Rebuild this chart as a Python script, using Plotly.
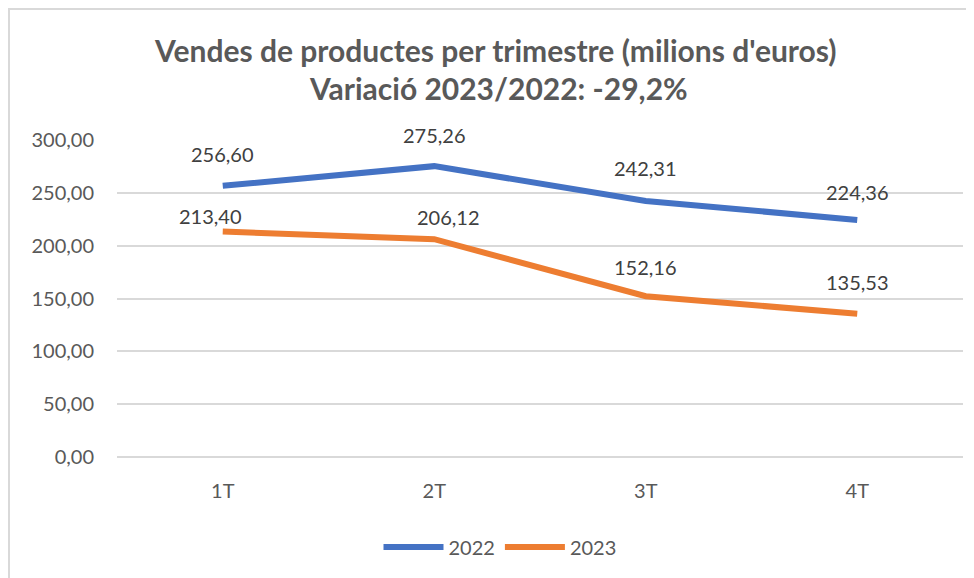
import plotly.graph_objects as go

categories = ["1T", "2T", "3T", "4T"]
sales_2022 = [256.60, 275.26, 242.31, 224.36]
sales_2023 = [213.40, 206.12, 152.16, 135.53]
series_names = ["2022", "2023"]
y_ticks = [0, 50, 100, 150, 200, 250, 300]

OFF = 8  # default page body margin
W, H = 974 - OFF, 578 - OFF
# plot area in screen pixels: x 117..963, y 140..457
ML = 117 - OFF
MT = 140 - OFF
MR = W - (963 - OFF)
MB = H - (457 - OFF)
PW = W - ML - MR
PH = H - MT - MB

def px_x(p):
    return (p - OFF - ML) / PW

def px_y(p):
    return (H - MB - (p - OFF)) / PH

FONT = "Lato"
GREY = "#595959"
colors = ["#4472C4", "#ED7D31"]

fig = go.Figure()
for name, vals, col in zip(series_names, [sales_2022, sales_2023], colors):
    fig.add_trace(go.Scatter(
        x=categories, y=vals, mode="lines", name=name,
        line=dict(color=col, width=6),
        hoverinfo="skip",
    ))

def fmt(v):
    return f"{v:.2f}".replace(".", ",")

# label offsets (pixels): (xshift, yshift)
offsets_2022 = [(0, 32), (0, 31), (0, 33), (0, 28)]
offsets_2023 = [(-12, 16), (14, 22), (0, 29), (0, 32)]
for vals, offs in [(sales_2022, offsets_2022), (sales_2023, offsets_2023)]:
    for c, v, (dx, dy) in zip(categories, vals, offs):
        fig.add_annotation(x=c, y=v, text=fmt(v), showarrow=False,
                           xshift=dx, yshift=dy, yanchor="middle",
                           font=dict(family=FONT, size=20, color="#404040"))

fig.add_annotation(xref="paper", yref="paper", x=px_x(495), y=px_y(50),
                   text="<b>Vendes de productes per trimestre (milions d'euros)</b>",
                   showarrow=False, yanchor="middle",
                   font=dict(family=FONT, size=30, color=GREY))
fig.add_annotation(xref="paper", yref="paper", x=px_x(498), y=px_y(88),
                   text="<b>Variació 2023/2022: -29,2%</b>",
                   showarrow=False, yanchor="middle",
                   font=dict(family=FONT, size=30, color=GREY))

fig.add_shape(type="rect", xref="paper", yref="paper",
              x0=px_x(9), x1=px_x(1000), y0=px_y(600), y1=px_y(9),
              line=dict(color="#D9D9D9", width=2), layer="below")

fig.update_layout(
    template="none",
    width=W, height=H,
    margin=dict(l=ML, r=MR, t=MT, b=MB, autoexpand=False),
    paper_bgcolor="white", plot_bgcolor="white",
    separators=", ",
    font=dict(family=FONT, size=20, color=GREY),
    showlegend=True,
    legend=dict(orientation="h", x=px_x(500), xanchor="center",
                y=px_y(547), yanchor="middle",
                font=dict(family=FONT, size=20, color=GREY),
                itemwidth=60, tracegroupgap=0, bgcolor="rgba(0,0,0,0)"),
    xaxis=dict(type="category", range=[-0.5, 3.5], showgrid=False,
               showline=False, ticks="", ticklabelstandoff=20, automargin=False,
               tickfont=dict(family=FONT, size=20, color=GREY), fixedrange=True),
    yaxis=dict(range=[0, 300], tickvals=y_ticks, tickformat=".2f",
               showgrid=True, gridcolor="#D9D9D9", gridwidth=1.5,
               zeroline=True, zerolinecolor="#D9D9D9", zerolinewidth=1.5,
               showline=False, ticks="", ticklabelstandoff=22, automargin=False,
               tickfont=dict(family=FONT, size=20, color=GREY), fixedrange=True),
)

fig.write_html("out.html")
